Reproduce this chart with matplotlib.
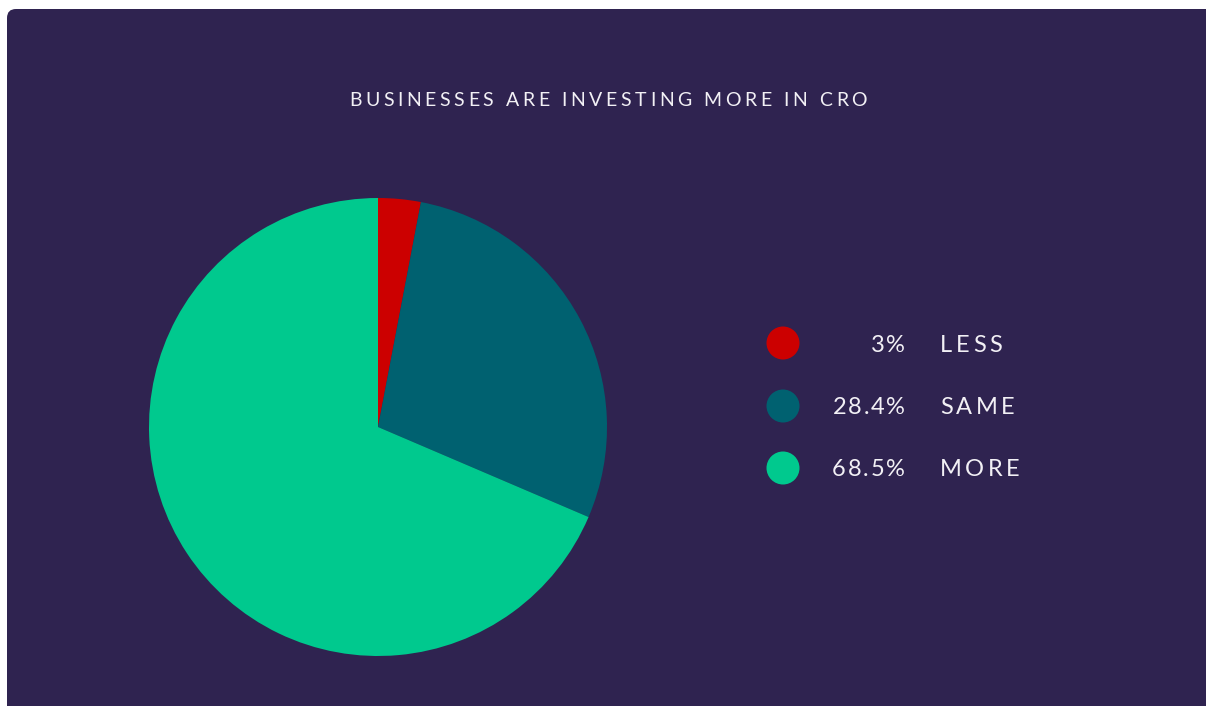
import matplotlib
matplotlib.use("Agg")
import matplotlib.pyplot as plt
from matplotlib.patches import FancyBboxPatch, Circle
from matplotlib.font_manager import FontProperties

# Survey shares
categories = ["LESS", "SAME", "MORE"]
shares = [3.0, 28.4, 68.5]
share_labels = ["3%", "28.4%", "68.5%"]
colors = ["#CC0000", "#006170", "#00C98E"]
title = "BUSINESSES ARE INVESTING MORE IN CRO"

W, H = 1206, 706
bg = "#2F2350"
fg = "#F2F0F5"
fig = plt.figure(figsize=(W / 100, H / 100), dpi=100, facecolor="white")
renderer = fig.canvas.get_renderer()

# Full-figure overlay axes in pixel coordinates (y downwards)
ov = fig.add_axes([0, 0, 1, 1])
ov.set_xlim(0, W)
ov.set_ylim(H, 0)
ov.axis("off")
card = FancyBboxPatch((7, 9), W + 40, H + 40,
                      boxstyle="round,pad=0,rounding_size=9",
                      facecolor=bg, edgecolor="none")
ov.add_patch(card)


def _advance(s, prop):
    # horizontal advance of s in pixels (sentinel keeps trailing spaces)
    w1, _, _ = renderer.get_text_width_height_descent(s + "H", prop, ismath=False)
    w0, _, _ = renderer.get_text_width_height_descent("H", prop, ismath=False)
    return w1 - w0


def tracked_text(x, y, s, size, tracking, ha="left", weight="normal"):
    """Draw s with extra letter spacing (pixels) at pixel position x, y."""
    prop = FontProperties(family="Lato", size=size, weight=weight)
    offsets = [_advance(s[:i], prop) + i * tracking for i in range(len(s))]
    total = _advance(s, prop) + (len(s) - 1) * tracking
    if ha == "center":
        x0 = x - total / 2
    elif ha == "right":
        x0 = x - total
    else:
        x0 = x
    for ch, off in zip(s, offsets):
        if ch != " ":
            ov.text(x0 + off, y, ch, color=fg, fontproperties=prop,
                    ha="left", va="center")


tracked_text(608, 100, title, 14, 3.6, ha="center")

# Pie
cx, cy, r = 378, 427, 229
pax = fig.add_axes([(cx - r) / W, (H - cy - r) / H, 2 * r / W, 2 * r / H])
pax.pie(shares, colors=colors, startangle=90, counterclock=False,
        wedgeprops=dict(linewidth=0), radius=1)
pax.set_xlim(-1, 1)
pax.set_ylim(-1, 1)
pax.set_aspect("equal")
pax.axis("off")

# Legend
rows_y = [343, 406, 468]
for y, c, lab, cat in zip(rows_y, colors, share_labels, categories):
    ov.add_patch(Circle((783, y), 16.5, facecolor=c, edgecolor="none"))
    tracked_text(905, y + 2, lab, 17, 1.8, ha="right")
    tracked_text(940, y + 2, cat, 17, 3.5, ha="left")

fig.savefig("out.png", dpi=100, facecolor="white")
